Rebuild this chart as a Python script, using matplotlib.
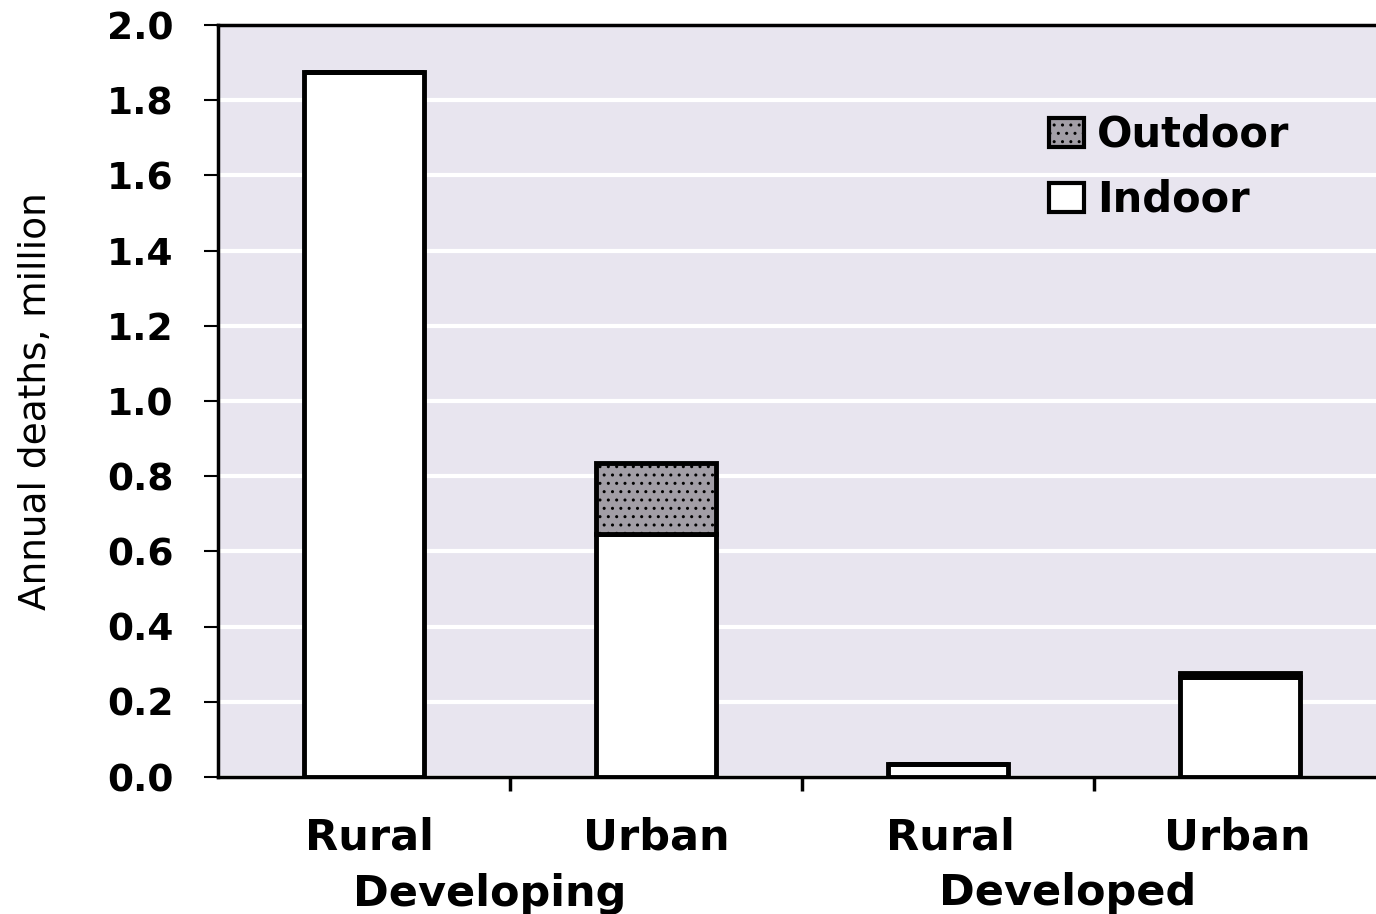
import matplotlib.pyplot as plt
from matplotlib.patches import Patch

# data
categories = ['Rural', 'Urban', 'Rural', 'Urban']
groups = ['Developing', 'Developed']
indoor = [1.875, 0.645, 0.035, 0.265]
outdoor = [0.0, 0.19, 0.0, 0.012]
y_ticks = [0.0, 0.2, 0.4, 0.6, 0.8, 1.0, 1.2, 1.4, 1.6, 1.8, 2.0]

fig = plt.figure(figsize=(13.76, 9.14), dpi=100)
ax = fig.add_axes([218 / 1376, 1 - 777 / 914, 1168 / 1376, 752 / 914])
ax.set_facecolor('#e8e5ef')

x = range(len(categories))
ax.bar(x, indoor, width=0.41, color='white', edgecolor='black', linewidth=3.5, zorder=3)
ax.bar(x, outdoor, width=0.41, bottom=indoor, color='#a29ea6', edgecolor='black',
       linewidth=3.5, hatch='..', zorder=3)

ax.set_xlim(-0.5, 3.5)
ax.set_ylim(0, 2.0)
ax.set_yticks(y_ticks)
ax.set_yticklabels(['%.1f' % v for v in y_ticks], fontsize=27, fontweight='bold')
ax.yaxis.grid(True, color='white', linewidth=3)
ax.set_axisbelow(True)

# group boundaries as x ticks
ax.set_xticks([0.5, 1.5, 2.5])
ax.set_xticklabels([])
ax.tick_params(axis='x', length=10, width=2.5, direction='out')
ax.tick_params(axis='y', length=10, width=1.5, pad=22)

label_x = [0.02, 1.0, 2.01, 2.99]
for i, c in enumerate(categories):
    ax.text(label_x[i], -0.162, c, ha='center', va='center', fontsize=31, fontweight='bold')
ax.text(0.43, -0.312, groups[0], ha='center', va='center', fontsize=31, fontweight='bold')
ax.text(2.41, -0.308, groups[1], ha='center', va='center', fontsize=31, fontweight='bold')

ax.set_ylabel('Annual deaths, million', fontsize=27)
ax.yaxis.set_label_coords(-0.14, 0.5)

for s in ['left', 'bottom', 'top']:
    ax.spines[s].set_linewidth(2.5)
ax.spines['right'].set_visible(False)

handles = [Patch(facecolor='#a29ea6', edgecolor='black', hatch='..', linewidth=3, label='Outdoor'),
           Patch(facecolor='white', edgecolor='black', linewidth=3, label='Indoor')]
fig.legend(handles=handles, loc='upper left', bbox_to_anchor=(1028 / 1376, 1 - 93 / 914),
           frameon=False, borderpad=0, prop={'size': 30, 'weight': 'bold'},
           handlelength=0.85, handleheight=0.7, handletextpad=0.3, labelspacing=0.55)

fig.savefig('out.png', dpi=100)
